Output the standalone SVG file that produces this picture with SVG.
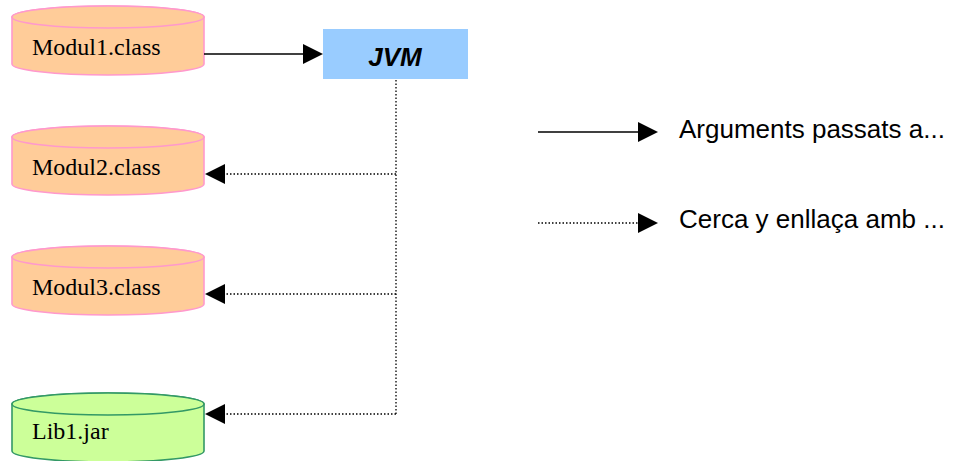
<svg xmlns="http://www.w3.org/2000/svg" width="955" height="461" viewBox="0 0 955 461">
  <style>
    .cyl-mod { fill: #FFCC99; stroke: #FF99CC; stroke-width: 1.6; }
    .cyl-lib { fill: #CCFF99; stroke: #339966; stroke-width: 1.6; }
    .label { font-family: "Liberation Serif", "Times New Roman", serif; font-size: 24px; fill: #000; }
    .legend { font-family: "Liberation Sans", Arial, sans-serif; font-size: 26px; fill: #000; }
    .solid { stroke: #000; stroke-width: 1.5; fill: none; }
    .dotted { stroke: #000; stroke-width: 1.3; stroke-dasharray: 1.5 2; fill: none; }
  </style>
  <defs>
    <!-- cylinder: body plus top rim, origin at the top of the rim -->
    <g id="cylBody">
      <path d="M12,11 V58 A96,11 0 0 0 204,58 V11 A96,11 0 0 0 12,11 Z"/>
      <ellipse cx="108" cy="11" rx="96" ry="11"/>
    </g>
  </defs>

  <rect width="955" height="461" fill="#fff"/>

  <!-- nodes -->
  <g id="modul1">
    <use href="#cylBody" class="cyl-mod" transform="translate(0,6)"/>
    <text class="label" x="32" y="55">Modul1.class</text>
  </g>
  <g id="jvm">
    <rect x="323" y="29" width="145" height="50" fill="#99CCFF"/>
    <text x="395" y="66" text-anchor="middle" font-family="Liberation Sans, Arial, sans-serif" font-size="26" font-weight="bold" font-style="italic">JVM</text>
  </g>
  <g id="modul2">
    <use href="#cylBody" class="cyl-mod" transform="translate(0,126)"/>
    <text class="label" x="32" y="175">Modul2.class</text>
  </g>
  <g id="modul3">
    <use href="#cylBody" class="cyl-mod" transform="translate(0,246)"/>
    <text class="label" x="32" y="295">Modul3.class</text>
  </g>
  <g id="lib1">
    <use href="#cylBody" class="cyl-lib" transform="translate(0,393)"/>
    <text class="label" x="32" y="439">Lib1.jar</text>
  </g>

  <!-- connectors -->
  <g id="connectors">
    <line class="solid" x1="204" y1="54" x2="304" y2="54"/>
    <polygon points="303,44 323,54 303,64" fill="#000"/>

    <line class="dotted" x1="396" y1="80" x2="396" y2="414"/>
    <line class="dotted" x1="396" y1="174" x2="225" y2="174"/>
    <polygon points="225,164 205,174 225,184" fill="#000"/>
    <line class="dotted" x1="396" y1="294" x2="225" y2="294"/>
    <polygon points="225,284 205,294 225,304" fill="#000"/>
    <line class="dotted" x1="396" y1="414" x2="225" y2="414"/>
    <polygon points="225,404 205,414 225,424" fill="#000"/>
  </g>

  <!-- legend -->
  <g id="legend">
    <line class="solid" x1="538" y1="132" x2="639" y2="132"/>
    <polygon points="638,122 658,132 638,142" fill="#000"/>
    <text class="legend" x="679" y="138">Arguments passats a...</text>

    <line class="dotted" x1="538" y1="223" x2="639" y2="223"/>
    <polygon points="638,213 658,223 638,233" fill="#000"/>
    <text class="legend" x="679" y="228">Cerca y enllaça amb ...</text>
  </g>
</svg>
